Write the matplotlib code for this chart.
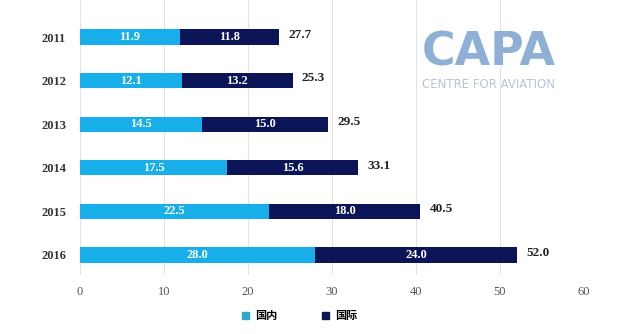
import matplotlib
matplotlib.use("Agg")
import matplotlib.pyplot as plt
from matplotlib.patches import Patch

years = ["2011", "2012", "2013", "2014", "2015", "2016"]
domestic = [11.9, 12.1, 14.5, 17.5, 22.5, 28.0]
international = [11.8, 13.2, 15.0, 15.6, 18.0, 24.0]
total_labels = ["27.7", "25.3", "29.5", "33.1", "40.5", "52.0"]
x_ticks = [0, 10, 20, 30, 40, 50, 60]

c_dom = "#17aee9"
c_int = "#0c1458"
serif = "Liberation Serif"

fig = plt.figure(figsize=(6.38, 3.34), dpi=100)
ax = fig.add_axes([80 / 638, 1 - 275 / 334, 504 / 638, 275 / 334])

pos = list(range(len(years)))
h = 0.35
ax.barh(pos, domestic, height=h, color=c_dom, zorder=3)
ax.barh(pos, international, left=domestic, height=h, color=c_int, zorder=3)

for i in pos:
    d, n = domestic[i], international[i]
    ax.text(d / 2, i, f"{d:.1f}", ha="center", va="center", color="white",
            fontsize=9, fontweight="bold", family=serif, zorder=4)
    ax.text(d + n / 2, i, f"{n:.1f}", ha="center", va="center", color="white",
            fontsize=9, fontweight="bold", family=serif, zorder=4)
    ax.text(d + n + 1.1, i - 0.05, total_labels[i], ha="left", va="center",
            color="#222222", fontsize=9.5, fontweight="bold", family=serif)

ax.set_xlim(0, 60)
ax.set_ylim(5.46, -0.85)
ax.set_xticks(x_ticks)
ax.set_xticklabels([str(t) for t in x_ticks], family=serif, fontsize=9,
                   color="#555555")
ax.set_yticks(pos)
ax.set_yticklabels(years, family=serif, fontsize=9, color="#333333",
                   fontweight="bold")
ax.tick_params(length=0, pad=10)
ax.tick_params(axis="x", pad=8)
ax.grid(axis="x", color="#e3e3e3", linewidth=0.8, zorder=0)
for s in ax.spines.values():
    s.set_visible(False)

# watermark
fig.text(489 / 638, 1 - 53 / 334, "CAPA", ha="center", va="center",
         fontsize=33, fontweight="heavy", color="#8fb0d6", family="DejaVu Sans")
fig.text(489 / 638, 1 - 84 / 334, "CENTRE FOR AVIATION", ha="center",
         va="center", fontsize=8.5, color="#b7c4d4", family="DejaVu Sans")

handles = [Patch(color="#2aa9c8", label="国内"), Patch(color=c_int, label="国际")]
fig.legend(handles=handles, loc="center", bbox_to_anchor=(300 / 638, 1 - 316 / 334),
           ncol=2, frameon=False, handlelength=0.6, handleheight=0.6,
           columnspacing=4.0, handletextpad=0.6,
           prop={"family": ["Noto Sans CJK SC", "DejaVu Sans"], "size": 8,
                 "weight": "bold"})

fig.savefig("out.png", dpi=100, facecolor="white")
